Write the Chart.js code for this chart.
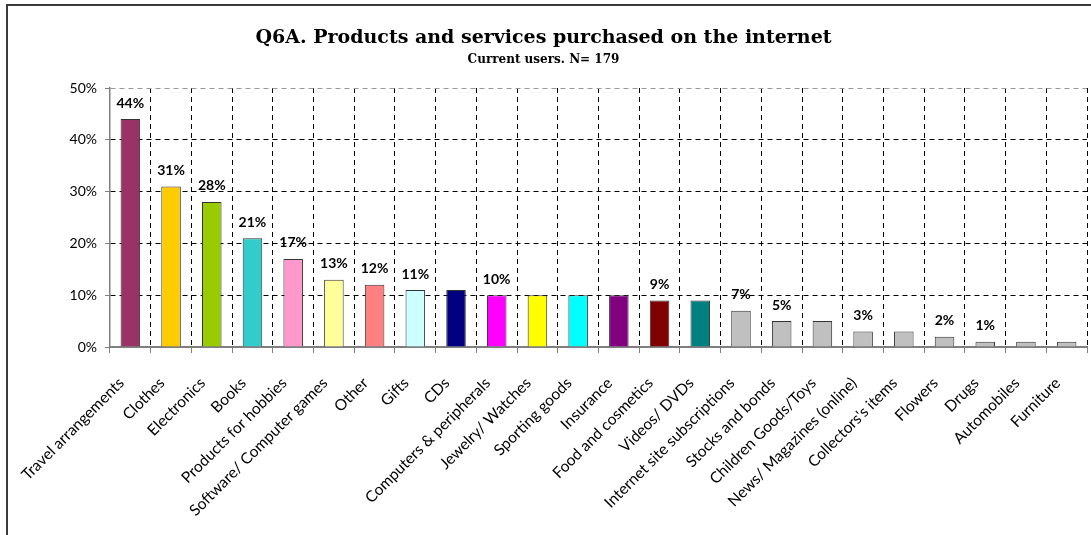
<!DOCTYPE html>
<html>
<head>
<meta charset="utf-8">
<script src="https://cdn.jsdelivr.net/npm/chart.js@4"></script>
<style>
  body { margin: 0; background: #fff; }
  #wrap { position: relative; width: 1091px; height: 535px; overflow: hidden; }
  #frame { position: absolute; left: 6px; top: 4px; width: 1200px; height: 600px; border: 2px solid #3a3a3a; }
  canvas { position: absolute; left: 0; top: 0; }
</style>
</head>
<body>
<div id="wrap">
  <div id="frame"></div>
  <canvas id="chart" width="1091" height="535"></canvas>
</div>
<script>
const categories = [
  'Travel arrangements', 'Clothes', 'Electronics', 'Books', 'Products for hobbies',
  'Software/ Computer games', 'Other', 'Gifts', 'CDs', 'Computers & peripherals',
  'Jewelry/ Watches', 'Sporting goods', 'Insurance', 'Food and cosmetics', 'Videos/ DVDs',
  'Internet site subscriptions', 'Stocks and bonds', 'Children Goods/Toys',
  'News/ Magazines (online)', "Collectors's items", 'Flowers', 'Drugs', 'Automobiles', 'Furniture'
];
const percents = [44, 31, 28, 21, 17, 13, 12, 11, 11, 10, 10, 10, 10, 9, 9, 7, 5, 5, 3, 3, 2, 1, 1, 1];
// only the first bar of each value carries a label in the original
const labelled = [1, 1, 1, 1, 1, 1, 1, 1, 0, 1, 0, 0, 0, 1, 0, 1, 1, 0, 1, 0, 1, 1, 0, 0];
const barColors = [
  '#993366', '#FFCC00', '#99CC00', '#33CCCC', '#FF99CC', '#FFFF99', '#FF8080', '#CCFFFF',
  '#000080', '#FF00FF', '#FFFF00', '#00FFFF', '#800080', '#800000', '#008080',
  '#C0C0C0', '#C0C0C0', '#C0C0C0', '#C0C0C0', '#C0C0C0', '#C0C0C0', '#C0C0C0', '#C0C0C0', '#C0C0C0'
];
const yTicks = [0, 10, 20, 30, 40, 50];

//draws the "44%" style labels above the bars
const barLabels = {
  id: 'barLabels',
  afterDatasetsDraw(chart) {
    const ctx = chart.ctx;
    const meta = chart.getDatasetMeta(0);
    ctx.save();
    ctx.font = 'bold 14px Lato';
    ctx.fillStyle = '#000';
    ctx.textAlign = 'center';
    ctx.textBaseline = 'middle';
    meta.data.forEach((bar, i) => {
      if (!labelled[i]) return;
      ctx.fillText(percents[i] + '%', bar.x, bar.y - 16);
    });
    ctx.restore();
  }
};

new Chart(document.getElementById('chart'), {
  type: 'bar',
  data: {
    labels: categories,
    datasets: [{
      data: percents,
      backgroundColor: barColors,
      borderColor: '#333',
      borderWidth: 1,
      barPercentage: 0.48,
      categoryPercentage: 1
    }]
  },
  plugins: [barLabels],
  options: {
    responsive: false,
    animation: false,
    layout: { padding: { top: 0, left: 0, right: 4, bottom: 0 } },
    plugins: {
      legend: { display: false },
      tooltip: { enabled: false },
      title: {
        display: true,
        text: 'Q6A. Products and services purchased on the internet',
        color: '#000',
        font: { family: 'DejaVu Serif', size: 19, weight: 'bold', lineHeight: 1.2 },
        padding: { top: 27, bottom: 0 }
      },
      subtitle: {
        display: true,
        text: 'Current users. N= 179',
        color: '#000',
        font: { family: 'DejaVu Serif', size: 12, weight: 'bold', lineHeight: 1.2 },
        padding: { top: 3, bottom: 20.8 }
      }
    },
    scales: {
      x: {
        grid: {
          offset: true,
          color: (c) => c.index === categories.length ? '#999' : '#000',
          tickColor: '#808080',
          tickLength: 6,
          lineWidth: 1
        },
        border: {
          color: '#7f7f7f',
          width: 2,
          dash: (c) => c.index === categories.length ? [] : [5, 4]
        },
        ticks: {
          autoSkip: false,
          minRotation: 45,
          maxRotation: 45,
          color: '#000',
          padding: 21,
          labelOffset: -9,
          font: { family: 'Lato', size: 15.5 }
        },
        afterFit: (scale) => {
          scale.height = 188;
          scale.paddingRight = 0; //rotated labels only hang to the left
        }
      },
      y: {
        min: 0,
        max: 50,
        afterBuildTicks: (scale) => { scale.ticks = yTicks.map(v => ({ value: v })); },
        grid: {
          color: (c) => c.tick && c.tick.value === 50 ? '#999' : '#000',
          tickColor: '#808080',
          tickLength: 5,
          lineWidth: 1
        },
        border: {
          color: '#808080',
          width: 1.5,
          dash: [5, 4]
        },
        ticks: {
          color: '#000',
          padding: 8,
          font: { family: 'Lato', size: 14 },
          callback: (v) => v + '%'
        },
        afterFit: (scale) => { scale.width = 110; }
      }
    }
  }
});
</script>
</body>
</html>
